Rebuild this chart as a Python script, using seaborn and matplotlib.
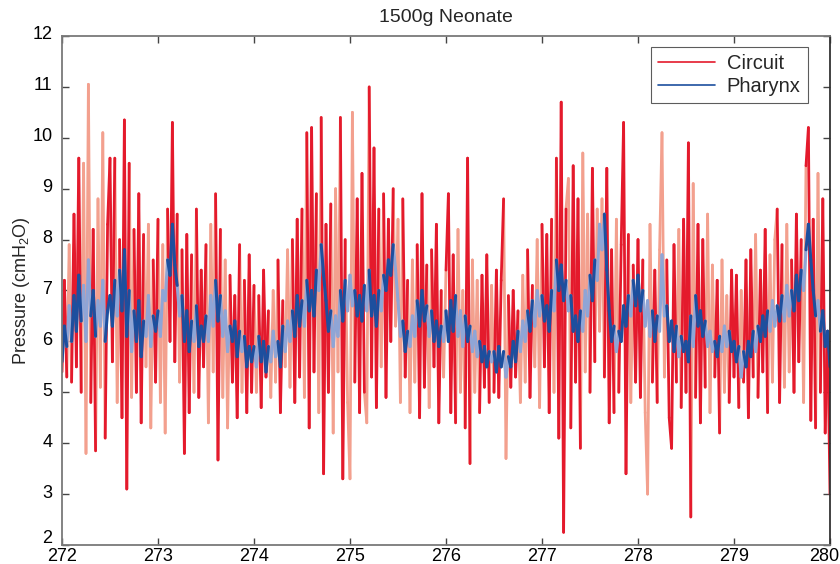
import numpy as np
import pandas as pd
import seaborn as sns
import matplotlib.pyplot as plt
import matplotlib.transforms as mtrans
from matplotlib.lines import Line2D

# pressure traces, sampled every 0.025 s from 272 to 280 s
circuit = [
    5.4, 7.2, 5.3, 7.9, 5.2, 8.5, 5.5, 9.6, 5.0, 9.5, 3.8, 11.05, 4.8, 8.2, 3.85, 8.8, 5.1, 10.1, 4.1, 8.3,
    9.6, 5.6, 9.6, 4.8, 8.0, 4.5, 10.35, 3.1, 9.5, 4.9, 8.2, 5.0, 8.9, 4.4, 8.1, 5.5, 8.3, 4.3, 7.6, 5.2,
    8.4, 4.8, 7.9, 4.2, 8.6, 6.0, 10.3, 5.6, 8.5, 5.2, 7.8, 3.8, 8.1, 4.6, 7.7, 5.0, 8.6, 4.9, 7.4, 5.5,
    7.9, 4.4, 8.3, 5.4, 8.9, 3.67, 8.2, 4.9, 7.6, 4.3, 7.3, 5.2, 6.9, 4.5, 7.9, 5.0, 7.2, 4.6, 7.7, 5.0,
    7.1, 5.0, 6.9, 4.7, 7.4, 5.3, 6.6, 4.9, 7.0, 5.2, 7.6, 4.6, 6.8, 5.5, 7.8, 5.1, 8.0, 4.8, 8.4, 5.3,
    8.6, 4.9, 10.1, 4.3, 10.2, 5.4, 8.9, 4.6, 10.4, 3.4, 8.3, 5.0, 8.7, 4.2, 9.0, 5.4, 10.4, 3.3, 8.0, 4.8,
    3.3, 10.5, 5.2, 8.8, 4.6, 9.3, 5.0, 4.4, 11.0, 5.3, 9.8, 4.7, 8.6, 5.5, 8.9, 4.9, 8.4, 6.0, 9.0, 6.3,
    8.4, 4.8, 8.8, 5.3, 7.2, 4.6, 7.6, 5.2, 7.9, 4.5, 8.9, 5.1, 7.5, 4.7, 7.8, 5.5, 8.3, 4.4, 7.0, 5.3,
    7.4, 8.9, 4.6, 7.7, 4.4, 8.2, 5.0, 7.0, 4.3, 9.6, 3.6, 7.6, 5.0, 7.2, 4.6, 7.3, 5.1, 7.7, 4.8, 7.1,
    5.0, 7.4, 4.9, 7.2, 8.8, 3.7, 6.9, 5.1, 7.0, 5.3, 6.6, 4.8, 7.3, 5.2, 7.8, 4.9, 7.1, 5.5, 8.0, 4.7,
    8.3, 5.5, 8.1, 4.6, 8.4, 5.0, 9.6, 4.1, 10.7, 2.25, 8.6, 9.2, 4.3, 9.45, 5.2, 8.8, 3.9, 9.7, 5.4, 8.5,
    5.0, 9.4, 5.6, 8.6, 6.2, 8.8, 5.3, 9.4, 4.4, 7.8, 4.6, 8.4, 5.0, 7.9, 10.3, 3.4, 8.1, 4.8, 7.5, 5.2,
    8.0, 4.9, 7.6, 4.6, 3.0, 8.3, 5.2, 7.4, 4.8, 7.8, 10.1, 5.3, 7.6, 4.5, 3.9, 7.9, 5.2, 8.2, 4.7, 8.4,
    5.0, 9.9, 2.55, 9.1, 4.9, 8.3, 4.4, 8.0, 5.1, 8.5, 4.6, 7.5, 5.3, 7.2, 4.2, 7.6, 5.0, 6.9, 4.8, 7.4,
    5.3, 7.3, 4.7, 7.0, 5.2, 7.6, 4.5, 7.8, 5.3, 8.1, 4.9, 7.4, 5.4, 8.2, 4.6, 7.7, 5.2, 8.0, 8.6, 4.8,
    7.9, 5.1, 8.3, 5.4, 7.6, 5.0, 8.5, 5.6, 8.0, 4.8, 9.45, 10.2, 4.45, 8.4, 4.3, 9.3, 5.0, 8.8, 4.2, 6.2,
    3.0,
]
pharynx = [
    5.6, 6.3, 5.9, 6.7, 6.0, 6.9, 6.2, 7.3, 6.4, 7.1, 6.0, 7.6, 6.5, 7.0, 6.1, 6.8, 6.3, 7.2, 6.0, 6.6,
    6.9, 6.3, 7.2, 6.5, 7.4, 6.6, 7.8, 6.1, 7.0, 5.8, 6.6, 6.0, 6.8, 5.7, 6.4, 6.1, 6.9, 5.9, 6.5, 6.2,
    6.6, 6.1, 7.0, 6.8, 7.6, 7.3, 8.3, 7.5, 7.1, 6.5, 6.9, 6.0, 6.6, 5.8, 6.4, 6.0, 6.7, 5.9, 6.3, 6.0,
    6.5, 6.0, 6.9, 6.3, 7.2, 6.4, 6.9, 6.1, 6.6, 5.8, 6.3, 6.0, 6.4, 5.7, 6.2, 5.8, 6.1, 5.5, 5.9, 5.6,
    5.9, 5.5, 6.1, 5.6, 6.0, 5.4, 5.9, 5.6, 6.2, 5.7, 6.0, 5.5, 6.3, 5.8, 6.4, 6.0, 6.6, 6.1, 6.9, 6.3,
    6.8, 6.3, 7.2, 6.6, 7.0, 6.5, 7.4, 7.0, 7.9, 7.3, 6.8, 6.2, 6.6, 5.9, 6.5, 6.1, 7.0, 6.4, 7.2, 6.6,
    7.3, 6.7, 7.0, 6.5, 6.9, 6.4, 7.1, 6.6, 7.4, 6.5, 6.9, 6.3, 7.0, 6.6, 7.3, 7.0, 7.6, 7.3, 7.9, 7.4,
    6.8, 6.1, 6.4, 5.8, 6.2, 5.9, 6.5, 6.1, 6.8, 6.3, 7.0, 6.4, 6.7, 6.1, 6.6, 6.0, 6.4, 5.9, 6.3, 6.0,
    6.6, 6.0, 6.8, 6.2, 6.9, 6.1, 6.6, 5.9, 6.5, 6.0, 6.3, 5.8, 6.2, 5.7, 6.0, 5.6, 5.9, 5.5, 5.8, 5.6,
    5.8, 5.4, 5.9, 5.5, 5.8, 5.3, 5.7, 5.5, 6.0, 5.6, 6.2, 5.8, 6.4, 6.0, 6.6, 6.2, 6.8, 6.3, 7.0, 6.5,
    6.9, 6.4, 6.7, 6.2, 7.0, 6.6, 7.6, 7.0, 7.5, 6.8, 7.2, 6.6, 6.9, 6.2, 6.5, 6.0, 6.6, 6.2, 7.0, 6.5,
    7.3, 6.8, 7.6, 7.2, 8.3, 7.8, 8.5, 7.4, 6.6, 6.0, 6.3, 5.8, 6.2, 6.0, 6.7, 6.3, 6.9, 6.5, 7.2, 6.7,
    7.3, 6.6, 7.0, 6.3, 6.8, 6.1, 6.6, 6.0, 6.5, 6.2, 7.7, 6.5, 6.7, 6.0, 6.4, 5.8, 6.3, 5.7, 6.1, 5.8,
    6.0, 5.6, 6.5, 5.9, 6.9, 6.3, 6.6, 6.1, 6.4, 5.9, 6.2, 5.8, 6.0, 5.7, 6.1, 5.8, 6.3, 5.9, 6.2, 5.8,
    6.0, 5.6, 5.9, 5.3, 5.8, 5.5, 6.0, 5.7, 6.2, 5.8, 6.3, 6.0, 6.5, 6.1, 6.6, 6.2, 6.8, 6.3, 6.7, 6.4,
    6.9, 6.4, 7.1, 6.5, 7.0, 6.6, 7.3, 6.8, 7.4, 7.0, 7.8, 8.3, 7.6, 7.0, 6.5, 6.8, 6.2, 6.6, 5.9, 6.2,
    5.5,
]
time = np.linspace(272, 280, len(circuit))
x_ticks = [272, 273, 274, 275, 276, 277, 278, 279, 280]
y_ticks = [2, 3, 4, 5, 6, 7, 8, 9, 10, 11, 12]

# the trace looks two-toned in the original (pixel aliasing); mimic with a repeating shade pattern
shade_cycle = [0, 1, 0, 0, 1, 1, 0, 1, 1, 0, 0, 1, 0]


def segments(values):
    rows = []
    for i in range(len(values) - 1):
        shade = "dark" if shade_cycle[(i // 2) % len(shade_cycle)] == 0 else "light"
        rows.append((time[i], values[i], i, shade))
        rows.append((time[i + 1], values[i + 1], i, shade))
    return pd.DataFrame(rows, columns=["time", "value", "seg", "shade"])


sns.set_style("ticks")
plt.rcParams["font.family"] = ["Liberation Sans", "DejaVu Sans"]
plt.rcParams["mathtext.default"] = "regular"

fig = plt.figure(figsize=(8.4, 5.64), dpi=100)
ax = fig.add_axes([0.0738, 0.0337, 0.9143, 0.9025])

sns.lineplot(data=segments(circuit), x="time", y="value", units="seg", estimator=None,
             hue="shade", hue_order=["light", "dark"],
             palette={"light": "#f3a08e", "dark": "#e41a2c"}, lw=2.0, legend=False, ax=ax)
sns.lineplot(data=segments(pharynx), x="time", y="value", units="seg", estimator=None,
             hue="shade", hue_order=["light", "dark"],
             palette={"light": "#8fa5d6", "dark": "#1d4f9e"}, lw=2.2, legend=False, ax=ax)

ax.set_xlim(272, 280)
ax.set_ylim(2, 12)
ax.set_xticks(x_ticks)
ax.set_yticks(y_ticks)
ax.tick_params(direction="in", length=5, width=1, colors="#444444", labelcolor="black",
               labelsize=13, top=True, right=True)
ax.tick_params(axis="y", pad=7)
ax.tick_params(axis="x", pad=2)
# labels sit a little above their ticks in the original; the lowest one more so
for k, lab in enumerate(ax.get_yticklabels()):
    up = 8 if k == 0 else 3
    lab.set_transform(lab.get_transform() + mtrans.ScaledTranslation(0, up / 100, fig.dpi_scale_trans))
# last x label is nudged left so it stays inside the figure
last = ax.get_xticklabels()[-1]
last.set_transform(last.get_transform() + mtrans.ScaledTranslation(-6 / 100, 0, fig.dpi_scale_trans))
for s in ax.spines.values():
    s.set_color("#7a7a7a")
    s.set_linewidth(1.3)
ax.spines["right"].set_color("#333333")

ax.set_xlabel("")
ax.set_ylabel("Pressure (cmH$_2$O)", fontsize=13, labelpad=0)
ax.set_title("1500g Neonate", fontsize=14, pad=10)

handles = [Line2D([], [], color="#e41a2c", lw=1.2), Line2D([], [], color="#1d4f9e", lw=1.2)]
leg = ax.legend(handles, ["Circuit", "Pharynx"], loc="upper right", bbox_to_anchor=(0.971, 0.979),
                fontsize=14.5, frameon=True, fancybox=False, handlelength=2.8, borderpad=0.35,
                labelspacing=0.2, handletextpad=0.6, borderaxespad=0)
leg.get_frame().set_edgecolor("#333333")
leg.get_frame().set_linewidth(0.8)

fig.savefig("out.png", dpi=100)
